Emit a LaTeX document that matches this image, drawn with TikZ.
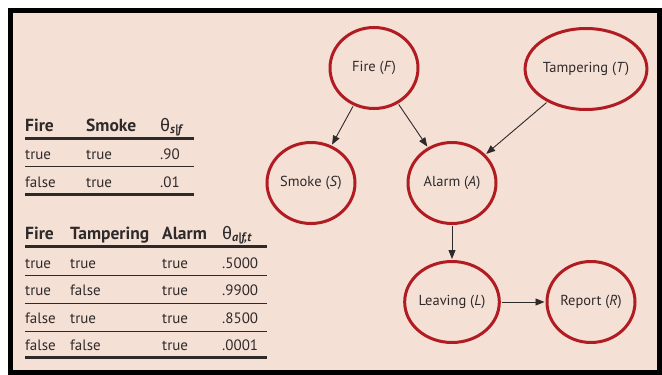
\documentclass[tikz,border=0pt]{standalone}
\usepackage{fontspec}
\setmainfont{PT Sans}
\newfontfamily\thetafont{Fira Sans}
\usetikzlibrary{arrows.meta,positioning,shapes.geometric}
\definecolor{Blush}{HTML}{F5E0D6}
\definecolor{BN_Red}{HTML}{B01C21}
\definecolor{Ink}{HTML}{2E2A2A}
\tikzset{
  var/.style={ellipse, draw=BN_Red, line width=3pt, text=Ink,
    font=\fontsize{14.5}{16}\selectfont, minimum width=88pt, minimum height=81pt, inner sep=0pt},
  edge/.style={->, Ink, line width=0.9pt, shorten >=1pt, shorten <=1pt},
  cell/.style={anchor=base west, text=Ink, font=\fontsize{15}{17}\selectfont, inner sep=0pt},
  head/.style={cell, font=\fontsize{17.5}{19}\selectfont\bfseries},
  thickrule/.style={line width=3pt, Ink},
  thinrule/.style={line width=0.8pt, Ink},
}
\newcommand{\thetasub}[1]{{\thetafont\mdseries θ}\textsubscript{\textit{#1}}}

\begin{document}
\begin{tikzpicture}[x=1pt, y=-1pt, >={Triangle[length=9pt,width=7pt]}]
    \useasboundingbox (0,0) rectangle (662,375);

    % Frame
    \draw[line width=5pt, fill=Blush] (10.5,10.5) rectangle (659.5,372.5);

    % Network nodes
    \node[var] (fire) at (374,68) {Fire (\textit{F})};
    \node[var, minimum width=106pt] (tamper) at (586,69) {Tampering (\textit{T})};
    \node[var] (smoke) at (311,183) {Smoke (\textit{S})};
    \node[var] (alarm) at (452,183) {Alarm (\textit{A})};
    \node[var] (leave) at (452,302) {Leaving (\textit{L})};
    \node[var] (report) at (591,302) {Report (\textit{R})};

    % Edges
    \draw[edge] (fire) -- (smoke);
    \draw[edge] (fire) -- (alarm);
    \draw[edge] (tamper) -- (alarm);
    \draw[edge] (alarm) -- (leave);
    \draw[edge] (leave) -- (report);

    % Table for smoke given fire
    \node[head] (h11) at (25,131) {Fire};
    \node[head] (h12) at (86,131) {Smoke};
    \node[head] (h13) at (160,131) {\thetasub{s|f}};
    \draw[thickrule] (25,138) -- (194,138);
    \node[cell] at (25,159) {true};
    \node[cell] at (86,159) {true};
    \node[cell] at (160,159) {.90};
    \draw[thinrule] (25,166) -- (194,166);
    \node[cell] at (25,187) {false};
    \node[cell] at (86,187) {true};
    \node[cell] at (160,187) {.01};
    \draw[thickrule] (25,194) -- (194,194);

    % Table for alarm given fire and tampering
    \node[head] (h21) at (25,239) {Fire};
    \node[head] (h22) at (70,239) {Tampering};
    \node[head] (h23) at (162,239) {Alarm};
    \node[head] (h24) at (222,239) {\thetasub{a|f,t}};
    \draw[thickrule] (25,246) -- (267,246);
    \node[cell] at (25,268) {true};
    \node[cell] at (70,268) {true};
    \node[cell] at (162,268) {true};
    \node[cell] at (222,268) {.5000};
    \draw[thinrule] (25,275) -- (267,275);
    \node[cell] at (25,295) {true};
    \node[cell] at (70,295) {false};
    \node[cell] at (162,295) {true};
    \node[cell] at (222,295) {.9900};
    \draw[thinrule] (25,303) -- (267,303);
    \node[cell] at (25,323) {false};
    \node[cell] at (70,323) {true};
    \node[cell] at (162,323) {true};
    \node[cell] at (222,323) {.8500};
    \draw[thinrule] (25,331) -- (267,331);
    \node[cell] at (25,350) {false};
    \node[cell] at (70,350) {false};
    \node[cell] at (162,350) {true};
    \node[cell] at (222,350) {.0001};
    \draw[thickrule] (25,357) -- (267,357);
\end{tikzpicture}
\end{document}
